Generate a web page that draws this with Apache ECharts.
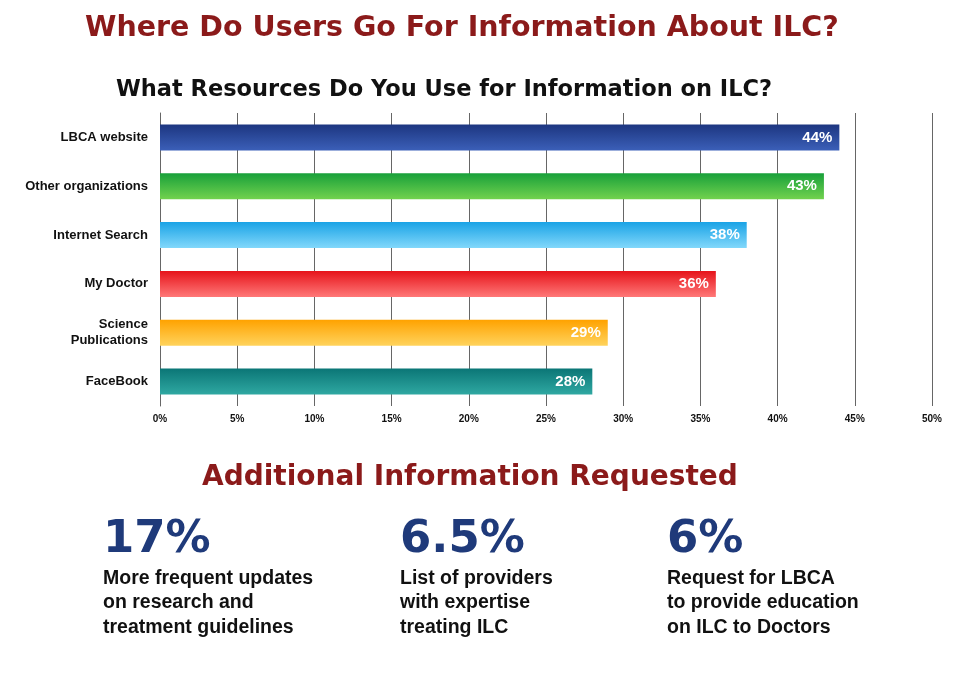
<!DOCTYPE html>
<html>
<head>
<meta charset="utf-8">
<script src="https://cdn.jsdelivr.net/npm/echarts@6/dist/echarts.min.js"></script>
<style>html,body{margin:0;background:#fff}#chart{width:980px;height:674px}</style>
</head>
<body>
<div id="chart"></div>
<script>
var categories = ['LBCA website','Other organizations','Internet Search','My Doctor','Science\nPublications','FaceBook'];
var values = [44, 43, 38, 36, 29, 28];
var darkColors = ['#1d3680','#18a03a','#1aa3e6','#e6131a','#ffa200','#0b7676'];
var lightColors = ['#3b5fb8','#72d24e','#82d8fb','#ff7878','#ffd35c','#2fa8a2'];
var statValues = ['17%','6.5%','6%'];
var statTexts = ['More frequent updates\non research and\ntreatment guidelines','List of providers\nwith expertise\ntreating ILC','Request for LBCA\nto provide education\non ILC to Doctors'];
var statX = [103, 400, 667];

var chart = echarts.init(document.getElementById('chart'));
var graphics = [
  {type:'text', left:202, top:464, style:{text:'Additional Information Requested', font:'bold 28px "DejaVu Sans", Arial', fill:'#8b1a1a'}}
];
statValues.forEach(function(v,i){
  graphics.push({type:'text', left:statX[i], top:518, style:{text:v, font:'bold 45px "DejaVu Sans", Arial', fill:'#1f3a7a'}});
  graphics.push({type:'text', left:statX[i], top:566, style:{text:statTexts[i], font:'bold 19.5px "Liberation Sans", Arial', fill:'#111', lineHeight:24.5}});
});
chart.setOption({
  animation:false,
  title:[
    {text:'Where Do Users Go For Information About ILC?', left:80, top:9, textStyle:{fontFamily:'DejaVu Sans', fontSize:28.5, fontWeight:'bold', color:'#8b1a1a'}},
    {text:'What Resources Do You Use for Information on ILC?', left:111, top:74, textStyle:{fontFamily:'DejaVu Sans', fontSize:22.5, fontWeight:'bold', color:'#111'}}
  ],
  grid:{left:160, right:48, top:113, bottom:268},
  xAxis:{type:'value', min:0, max:50, interval:5,
    axisLabel:{formatter:'{value}%', fontSize:10, fontWeight:'bold', color:'#111', fontFamily:'Liberation Sans', margin:8},
    splitLine:{lineStyle:{color:'#666'}}, axisLine:{show:false}, axisTick:{show:false}},
  yAxis:{type:'category', inverse:true, data:categories,
    axisLabel:{fontSize:13, fontWeight:'bold', color:'#111', fontFamily:'Liberation Sans', align:'right', margin:12, lineHeight:16},
    axisLine:{show:true, lineStyle:{color:'#666'}}, axisTick:{show:false}},
  series:[{type:'bar', barWidth:26,
    data:values.map(function(v,i){return {value:v, itemStyle:{color:new echarts.graphic.LinearGradient(0,0,0,1,[{offset:0,color:darkColors[i]},{offset:1,color:lightColors[i]}])}};}),
    label:{show:true, position:'insideRight', formatter:'{c}%', color:'#fff', fontWeight:'bold', fontSize:15, fontFamily:'Liberation Sans', offset:[-2,0]}
  }],
  graphic:graphics
});
</script>
</body>
</html>
